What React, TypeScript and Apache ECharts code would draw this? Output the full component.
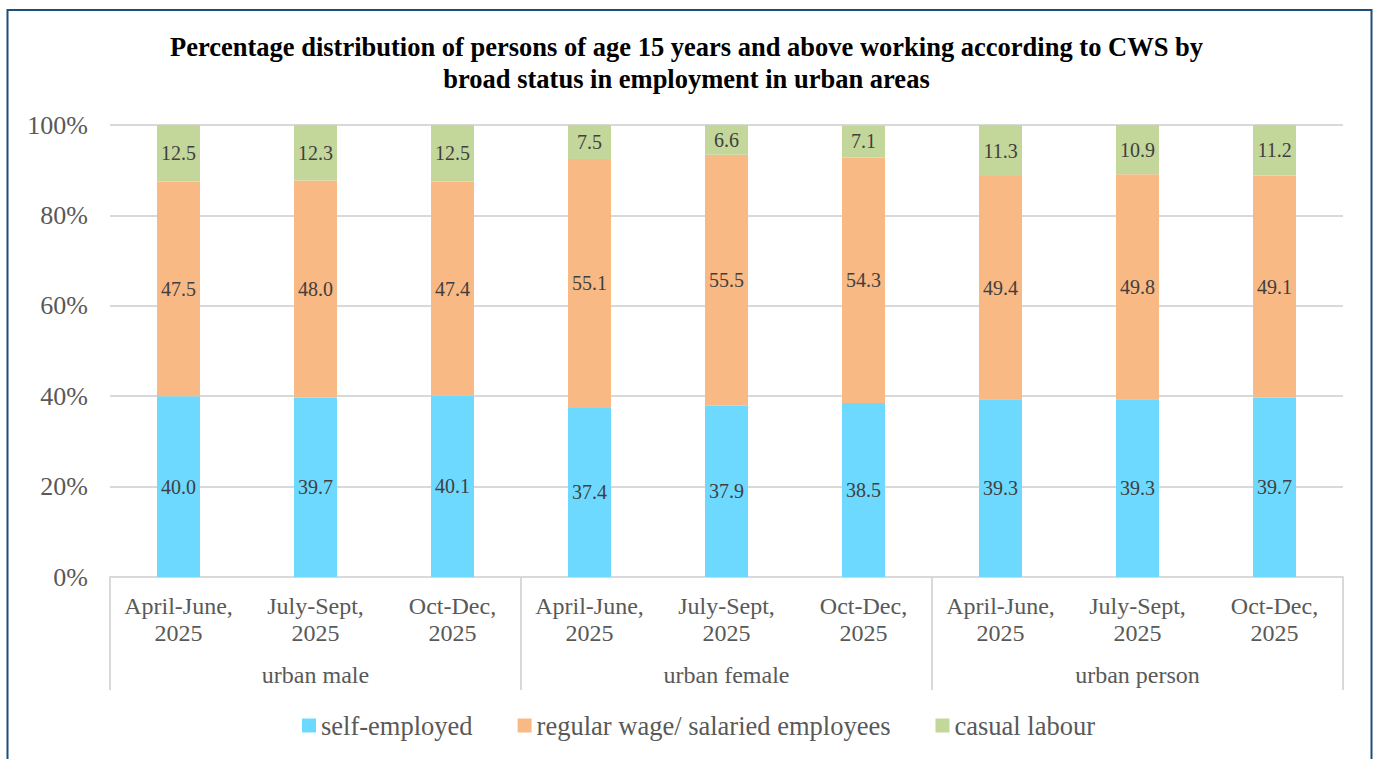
import React, { useEffect, useRef } from "react";
import * as echarts from "echarts";

const periods = [
  "April-June,\n2025", "July-Sept,\n2025", "Oct-Dec,\n2025",
  "April-June,\n2025", "July-Sept,\n2025", "Oct-Dec,\n2025",
  "April-June,\n2025", "July-Sept,\n2025", "Oct-Dec,\n2025",
];
const groups = ["urban male", "urban female", "urban person"];
const selfEmployed = [40.0, 39.7, 40.1, 37.4, 37.9, 38.5, 39.3, 39.3, 39.7];
const regularWage = [47.5, 48.0, 47.4, 55.1, 55.5, 54.3, 49.4, 49.8, 49.1];
const casualLabour = [12.5, 12.3, 12.5, 7.5, 6.6, 7.1, 11.3, 10.9, 11.2];
const seriesNames = ["self-employed", "regular wage/ salaried employees", "casual labour"];
const colors = ["#6DD9FF", "#F9B984", "#C4D79B"];
const yTicks = [0, 20, 40, 60, 80, 100];

const FONT = "Liberation Serif, Times New Roman, serif";

export default function App() {
  const ref = useRef<HTMLDivElement>(null);
  useEffect(() => {
    if (!ref.current) return;
    const chart = echarts.init(ref.current, null, { renderer: "svg" });
    const mkSeries = (name: string, data: number[], color: string) => ({
      name,
      type: "bar",
      stack: "total",
      barWidth: 43,
      data,
      itemStyle: { color },
      label: {
        show: true,
        position: "inside",
        color: "#404040",
        fontSize: 20,
        fontFamily: FONT,
        formatter: (p: any) => Number(p.value).toFixed(1),
      },
    });
    chart.setOption({
      animation: false,
      textStyle: { fontFamily: FONT },
      title: {
        text: "Percentage distribution of persons of age 15 years and above working according to CWS by\nbroad status in employment in urban areas",
        left: "center",
        top: 26,
        textStyle: { fontSize: 26.5, fontWeight: "bold", color: "#000", fontFamily: FONT, lineHeight: 32 },
      },
      graphic: [
        {
          type: "rect",
          shape: { x: 7.5, y: 10, width: 1364, height: 800 },
          style: { fill: "none", stroke: "#1F4E79", lineWidth: 2 },
          silent: true,
        },
      ],
      legend: {
        data: seriesNames,
        top: 707,
        left: 297,
        icon: "rect",
        itemWidth: 14,
        itemHeight: 14,
        itemGap: 45,
        textStyle: { fontSize: 26.5, color: "#595959", fontFamily: FONT },
      },
      grid: { left: 110, right: 30, top: 125, bottom: 182, containLabel: false },
      xAxis: [
        {
          type: "category",
          data: periods,
          axisLine: { show: true, lineStyle: { color: "#D9D9D9", width: 2 } },
          axisTick: { show: false },
          axisLabel: {
            interval: 0,
            margin: 15,
            fontSize: 24,
            lineHeight: 27,
            color: "#595959",
            fontFamily: FONT,
          },
        },
        {
          type: "category",
          data: groups,
          position: "bottom",
          axisLine: { show: false },
          axisTick: { show: true, length: 113, lineStyle: { color: "#D9D9D9", width: 2 } },
          axisLabel: {
            interval: 0,
            margin: 86,
            fontSize: 24,
            color: "#595959",
            fontFamily: FONT,
          },
        },
      ],
      yAxis: {
        type: "value",
        min: 0,
        max: 100,
        interval: 20,
        axisLine: { show: false },
        axisTick: { show: false },
        splitLine: { lineStyle: { color: "#D9D9D9", width: 2 } },
        axisLabel: {
          margin: 22,
          fontSize: 26,
          color: "#595959",
          fontFamily: FONT,
          formatter: (v: number) => (yTicks.includes(v) ? v + "%" : ""),
        },
      },
      series: [
        mkSeries(seriesNames[0], selfEmployed, colors[0]),
        mkSeries(seriesNames[1], regularWage, colors[1]),
        mkSeries(seriesNames[2], casualLabour, colors[2]),
      ],
    });
    return () => chart.dispose();
  }, []);
  return (
    <div
      ref={ref}
      style={{ position: "absolute", left: 0, top: 0, width: 1373, height: 759, background: "#fff" }}
    />
  );
}
